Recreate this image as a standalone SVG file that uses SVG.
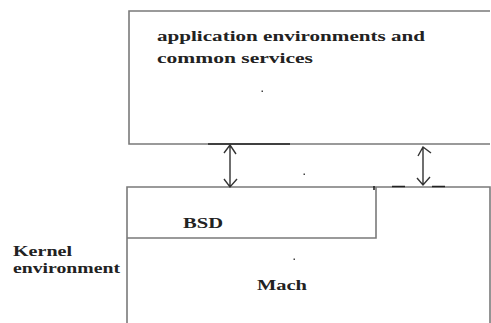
<svg xmlns="http://www.w3.org/2000/svg" width="491" height="323" viewBox="0 0 491 323">
<style>
.box{fill:none;stroke:#7a7a7a;stroke-width:1.6}
.t{font-family:'Liberation Serif','DejaVu Serif',serif;font-weight:700;font-size:14px;fill:#222}
.ar{stroke:#333;stroke-width:1.4;fill:none}
.dk{stroke:#222;stroke-width:1.6}
.dot{fill:#444}
</style>
<rect width="491" height="323" fill="#fff"/>
<g id="app">
<path class="box" d="M490 11 H129 V144 H490"/>
<text class="t" x="157" y="41" textLength="268" lengthAdjust="spacingAndGlyphs">application environments and</text>
<text class="t" x="157" y="63" textLength="156" lengthAdjust="spacingAndGlyphs">common services</text>
<rect class="dot" x="261.5" y="90.5" width="1.5" height="1.5"/>
</g>
<g id="kernel">
<path class="box" d="M127 323 V187 H490 V323"/>
<text class="t" x="13" y="256" textLength="59" lengthAdjust="spacingAndGlyphs">Kernel</text>
<text class="t" x="13" y="273" textLength="107" lengthAdjust="spacingAndGlyphs">environment</text>
</g>
<g id="bsd">
<path class="box" d="M127 238 H376 V187"/>
<text class="t" x="183" y="228" textLength="40" lengthAdjust="spacingAndGlyphs">BSD</text>
</g>
<g id="mach">
<text class="t" x="257" y="290" textLength="50" lengthAdjust="spacingAndGlyphs">Mach</text>
<rect class="dot" x="293.5" y="258.5" width="1.5" height="1.5"/>
</g>
<rect class="dot" x="303.5" y="173.5" width="1.5" height="1.5"/>
<g id="connectors">
<path class="dk" d="M208 144 H290"/>
<path class="dk" d="M392 186.5 H405 M432 186.5 H445"/>
<path class="dk" d="M374 186 V190"/>
<path class="ar" d="M230 145 V187 M224 153 L230 145 L236 154 M224 179 L230 187 L237 179"/>
<path class="ar" d="M423 147 V185 M418 156 L423 147 L431 153 M417 178 L423 185 L430 177"/>
</g>
</svg>
